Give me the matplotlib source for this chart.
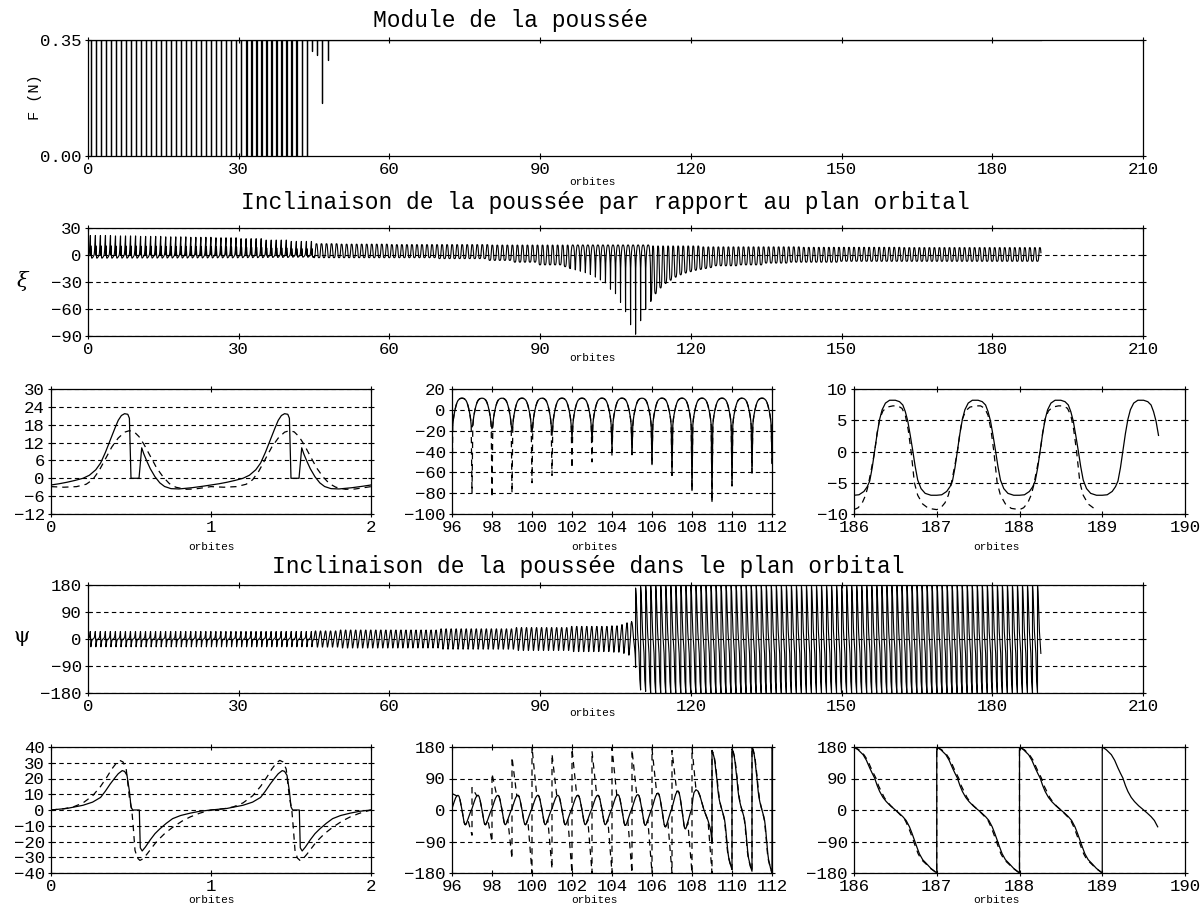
import numpy as np
import matplotlib
matplotlib.use('Agg')
import matplotlib.pyplot as plt

plt.rcParams['font.family'] = ['Liberation Mono', 'DejaVu Sans Mono']
plt.rcParams['axes.unicode_minus'] = True

T_END = 189.68          # last orbit computed

# ---------------- thrust modulus F (N) ----------------
F_MAX = 0.35
coast_orbits = list(range(44))          # orbits with a full coast arc
coast_on, coast_off = 0.50, 0.55        # coast arc, fraction of orbit
partial_orbit = [44.6, 45.6, 46.6, 47.8]
partial_value = [0.316, 0.304, 0.161, 0.290]

# ---------------- xi : out-of-plane thrust angle (deg) ----------------
# one orbit with coast arc (orbit 0)
xi_coast_phase = [0.0, 0.05, 0.10, 0.15, 0.20, 0.24, 0.28, 0.31, 0.34, 0.37,
                  0.40, 0.42, 0.44, 0.46, 0.48, 0.49, 0.50, 0.55, 0.567, 0.58,
                  0.60, 0.62, 0.65, 0.68, 0.71, 0.75, 0.80, 0.88, 0.95, 1.0]
xi_coast = [-2.2, -1.8, -1.3, -0.7, 0.0, 1.0, 2.8, 5.0, 8.5, 12.5,
            16.5, 19.0, 20.6, 21.2, 21.0, 19.7, 0.0, 0.0, 10.0, 8.0,
            5.5, 3.2, 0.5, -1.5, -2.7, -3.4, -3.5, -3.1, -2.6, -2.2]
xi_coast_ref_phase = [0.0, 0.08, 0.16, 0.22, 0.26, 0.30, 0.34, 0.38, 0.42,
                      0.46, 0.49, 0.52, 0.55, 0.58, 0.62, 0.66, 0.70, 0.74,
                      0.78, 0.84, 0.90, 0.95, 1.0]
xi_coast_ref = [-2.8, -3.0, -2.8, -2.0, -0.5, 2.5, 6.5, 10.5, 13.5,
                15.5, 16.0, 15.6, 14.0, 11.5, 7.5, 3.5, 0.5, -1.8,
                -3.0, -3.7, -3.6, -3.2, -2.8]
# continuous thrust, shape between trough (0) and peak (1)
xi_smooth_phase = [0.0, 0.06, 0.12, 0.16, 0.19, 0.22, 0.25, 0.28, 0.31, 0.34,
                   0.38, 0.43, 0.50, 0.55, 0.59, 0.62, 0.65, 0.68, 0.71, 0.74,
                   0.77, 0.81, 0.86, 0.93, 1.0]
xi_smooth_shape = [0.0, 0.005, 0.04, 0.09, 0.15, 0.29, 0.47, 0.65, 0.80, 0.90,
                   0.97, 1.0, 1.0, 0.985, 0.95, 0.88, 0.78, 0.63, 0.47, 0.30,
                   0.16, 0.07, 0.02, 0.0, 0.0]
# orbits 96-111, cusp at perigee
xi_cusp_phase = [0.0, 0.04, 0.07, 0.10, 0.15, 0.20, 0.25, 0.30, 0.37, 0.43,
                 0.50, 0.57, 0.63, 0.70, 0.75, 0.80, 0.85, 0.90, 0.93, 0.96, 1.0]
xi_cusp_mid = [-15.0, -9.0, -5.0, 0.0, 4.0, 7.0, 9.0, 10.4, 11.0,
               11.2, 11.0, 10.4, 9.0, 7.0, 4.0, 0.0, -5.0, -9.0, -15.0]
# reference solution, orbits 186-189
xi_end_ref_phase = [0.0, 0.05, 0.10, 0.14, 0.17, 0.21, 0.25, 0.28, 0.31, 0.35,
                    0.40, 0.47, 0.53, 0.58, 0.62, 0.655, 0.69, 0.71, 0.73,
                    0.77, 0.83, 0.90, 1.0]
xi_end_ref = [-9.3, -9.0, -8.2, -7.0, -5.5, -2.8, 0.0, 3.0, 5.2, 6.5,
              7.1, 7.3, 7.3, 6.9, 5.8, 3.5, 0.0, -2.5, -5.0,
              -7.0, -8.4, -9.1, -9.3]

# peak value per orbit 0..189
xi_peak = ([21.5] * 5 + [21] * 5 + [20.5] * 5 + [20] * 5 + [19.5] * 5 +
           [19] * 5 + [18] * 5 + [16.5] * 5 + [15] * 5 +
           [12.5] * 5 + [12] * 10 + [11.5] * 20 + [11] * 32 +
           [10] * 10 + [9] * 20 + [8.5] * 20 + [8.2] * 28)
# trough value at the start of each orbit 0..190
xi_trough = ([-3.5] * 45 + [-3] * 25 + [-4] * 10 + [-6] * 5 + [-8] * 5 +
             [-11] * 5 + [-13] +
             [-15, -16.5, -18, -19.7, -21.6, -24.5, -27.7, -31, -38, -43,
              -52.6, -63, -77.5, -88, -73, -60.6] +
             [-51.6, -43, -36.6, -31.6, -28, -24.6, -22, -20, -18.5, -17,
              -16, -15, -14] +
             [-12] * 5 + [-11] * 5 + [-9] * 5 + [-8] * 10 + [-7] * 41)
# reference solution troughs, orbits 96..104
xi_ref_trough = [-75, -80, -84, -80, -70, -63, -56, -50, -45]

# ---------------- psi : in-plane thrust angle (deg) ----------------
psi_coast_phase = [0.0, 0.10, 0.20, 0.26, 0.31, 0.34, 0.37, 0.40, 0.42, 0.445,
                   0.46, 0.475, 0.49, 0.50, 0.51, 0.552, 0.558, 0.57, 0.59,
                   0.62, 0.65, 0.68, 0.72, 0.76, 0.81, 0.87, 0.93, 1.0]
psi_coast = [0.0, 1.0, 3.0, 5.0, 8.0, 12.0, 16.5, 20.5, 23.0, 25.0,
             24.5, 22.0, 12.0, 2.0, 0.0, 0.0, -24.0, -26.0, -23.5,
             -19.0, -15.0, -12.0, -8.5, -5.5, -3.5, -2.0, -0.8, 0.0]
psi_coast_ref_phase = [0.0, 0.08, 0.14, 0.20, 0.26, 0.31, 0.35, 0.38, 0.41,
                       0.43, 0.45, 0.47, 0.49, 0.505, 0.515, 0.525, 0.54,
                       0.556, 0.575, 0.60, 0.63, 0.66, 0.71, 0.76, 0.82,
                       0.87, 0.93, 1.0]
psi_coast_ref = [0.0, 0.8, 2.0, 4.5, 9.0, 15.0, 21.0, 26.0, 30.0,
                 31.5, 30.5, 26.0, 8.0, 0.0, -12.0, -25.6, -30.5,
                 -32.0, -31.0, -28.0, -24.0, -20.0, -15.0, -11.0, -7.0,
                 -4.4, -2.0, 0.0]
psi_osc_phase = [0.0, 0.06, 0.12, 0.18, 0.24, 0.30, 0.35, 0.40, 0.45, 0.50,
                 0.55, 0.60, 0.64, 0.68, 0.73, 0.79, 0.85, 0.92, 1.0]
psi_osc_shape = [0.1, 0.35, 0.6, 0.82, 0.96, 1.0, 0.93, 0.7, 0.35, 0.0,
                 -0.4, -0.8, -0.98, -1.0, -0.88, -0.65, -0.4, -0.15, 0.1]
psi_amp = ([27] * 5 + [30] * 20 + [34] * 15 + [38] * 11 + [42] * 8 +
           [44] * 2 + [48] + [54])                       # orbits 45..107
psi_108_phase = [0.0, 0.05, 0.10, 0.20, 0.30, 0.40, 0.50, 0.60, 0.70, 0.80,
                 0.90, 0.95, 1.0]
psi_108 = [10.0, 35.0, 50.0, 58.0, 54.0, 40.0, 20.0, 0.0, -15.0, -30.0,
           -50.0, -65.0, -95.0]
psi_saw_phase = [0.0, 0.05, 0.11, 0.15, 0.19, 0.22, 0.25, 0.28, 0.31, 0.35,
                 0.39, 0.44, 0.49, 0.54, 0.59, 0.63, 0.67, 0.70, 0.73, 0.76,
                 0.79, 0.83, 0.875, 0.93, 1.0]
psi_saw_ref_phase = [0.0, 0.06, 0.12, 0.165, 0.205, 0.235, 0.265, 0.295, 0.33,
                     0.365, 0.40, 0.445, 0.49, 0.535, 0.58, 0.62, 0.655,
                     0.685, 0.715, 0.745, 0.775, 0.815, 0.865, 0.925, 1.0]
psi_saw = [180.0, 172.0, 158.0, 142.0, 120.0, 105.0, 91.0, 70.0, 53.0, 36.0,
           24.0, 12.0, 2.0, -8.0, -19.0, -30.0, -48.0, -66.0, -86.0, -106.0,
           -125.0, -142.0, -153.0, -167.0, -180.0]
psi_wrap = [170, 175] + [180] * 79                       # orbits 109..189
# reference solution jumps around perigee, orbits 96..108
psi_ref_top = [47, 64, 104, 151, 180, 160, 175, 168, 178, 172, 175, 170, 178]
psi_ref_bottom = [-72, -91, -139, -180, -168, -180, -180, -180, -180,
                  -180, -180, -180, -180]


def lay(orbits, wave):
    t, y = [], []
    for k in orbits:
        ph, v = wave(k)
        t.extend(k + np.asarray(ph, float))
        y.extend(np.asarray(v, float))
    return np.array(t), np.array(y)


def upto(t, y, t1):
    m = t <= t1
    return t[m], y[m]


def xi_orbit(k, trough):
    if k < 45:
        return xi_coast_phase, np.array(xi_coast) * xi_peak[k] / 21.0
    t0, t1 = trough[k], trough[k + 1]
    if 96 <= k <= 111:
        return xi_cusp_phase, [t0] + xi_cusp_mid + [t1]
    ph = np.array(xi_smooth_phase)
    base = np.where(ph < 0.5, t0, t1)
    return ph, base + (xi_peak[k] - base) * np.array(xi_smooth_shape)


def psi_orbit(k):
    if k < 45:
        return psi_coast_phase, psi_coast
    if k < 108:
        return psi_osc_phase, np.array(psi_osc_shape) * psi_amp[k - 45]
    if k == 108:
        return psi_108_phase, psi_108
    return psi_saw_phase, np.array(psi_saw) * psi_wrap[k - 109] / 180.0


def psi_ref_orbit(k):
    if k >= 109:
        return psi_saw_ref_phase, np.array(psi_saw) * psi_wrap[k - 109] / 180.0
    ph, v = psi_orbit(k)
    ph, v = np.asarray(ph, float), np.asarray(v, float)
    keep = (ph >= 0.2) & (ph <= 0.82)
    return (np.r_[0.0, ph[keep], 1.0],
            np.r_[psi_ref_top[k - 96], v[keep], psi_ref_bottom[k - 96]])


orbits = range(190)

# thrust history
ft, fy = [0.0], [F_MAX]
for k in coast_orbits:
    ft += [k + coast_on, k + coast_on, k + coast_off, k + coast_off]
    fy += [F_MAX, 0.0, 0.0, F_MAX]
for o, v in zip(partial_orbit, partial_value):
    ft += [o, o, o + 0.03, o + 0.03]
    fy += [F_MAX, v, v, F_MAX]
ft.append(T_END)
fy.append(F_MAX)

xi_t, xi_y = upto(*lay(orbits, lambda k: xi_orbit(k, xi_trough)), T_END)
xi_ref_tr = xi_trough[:96] + xi_ref_trough + xi_trough[105:]
xi_a_t, xi_a_y = lay(range(2), lambda k: (xi_coast_ref_phase, xi_coast_ref))
xi_b_t, xi_b_y = lay(range(96, 112), lambda k: xi_orbit(k, xi_ref_tr))
xi_c_t, xi_c_y = upto(*lay(range(186, 189), lambda k: (xi_end_ref_phase, xi_end_ref)), 188.9)

psi_t, psi_y = upto(*lay(orbits, psi_orbit), T_END)
psi_a_t, psi_a_y = lay(range(2), lambda k: (psi_coast_ref_phase, psi_coast_ref))
psi_b_t, psi_b_y = lay(range(96, 112), psi_ref_orbit)
psi_c_t, psi_c_y = lay(range(186, 189), lambda k: (psi_saw_ref_phase, psi_saw))

# ---------------- figure ----------------
W, H = 1201, 907
fig = plt.figure(figsize=(W / 100, H / 100), dpi=100)
DASH = (0, (5, 4))
GRID = (0, (4, 3))


def box(l, t, r, b):
    return fig.add_axes([l / W, 1 - b / H, (r - l) / W, (b - t) / H])


def style(ax, xlim, xticks, ylim, yticks, grid=True):
    ax.set_xlim(xlim)
    ax.set_ylim(ylim)
    ax.set_xticks(xticks)
    ax.set_yticks(yticks)
    ax.tick_params(direction='inout', length=5, width=0.8, top=True,
                   right=True, labelsize=12.5, pad=2)
    for s in ax.spines.values():
        s.set_linewidth(0.9)
    if grid:
        ax.yaxis.grid(True, color='k', ls=GRID, lw=0.8)


def label(x, y, s, size=8, **kw):
    fig.text(x / W, 1 - y / H, s, ha='center', va='center', size=size, **kw)


main_x = np.arange(0, 211, 30)

ax = box(88, 40, 1143, 156)
ax.plot(ft, fy, color='k', lw=0.9)
style(ax, (0, 210), main_x, (0, F_MAX), [0, F_MAX], grid=False)
ax.set_yticklabels(['0.00', '0.35'])
label(510, 20, 'Module de la poussée', size=16.5)
label(592, 182, 'orbites')
label(35, 97, 'F (N)', size=11, rotation=90)

ax = box(88, 228, 1143, 336)
ax.plot(xi_t, xi_y, color='k', lw=0.8)
style(ax, (0, 210), main_x, (-90, 30), [30, 0, -30, -60, -90])
label(605, 203, 'Inclinaison de la poussée par rapport au plan orbital', size=16.5)
label(592, 358, 'orbites')
label(22, 281, 'ξ', size=15, family='DejaVu Serif', style='italic')

# detail windows for xi
ax = box(51, 389, 371, 514)
ax.plot(xi_a_t, xi_a_y, color='k', lw=0.9, ls=DASH)
ax.plot(xi_t, xi_y, color='k', lw=0.9)
style(ax, (0, 2), [0, 1, 2], (-12, 30), np.arange(-12, 31, 6))
label(211, 547, 'orbites')

ax = box(452, 389, 772, 514)
ax.plot(xi_b_t, xi_b_y, color='k', lw=0.9, ls=DASH)
ax.plot(xi_t, xi_y, color='k', lw=0.9)
style(ax, (96, 112), np.arange(96, 113, 2), (-100, 20), np.arange(-100, 21, 20))
label(594, 547, 'orbites')

ax = box(854, 389, 1185, 514)
ax.plot(xi_c_t, xi_c_y, color='k', lw=0.9, ls=DASH)
ax.plot(xi_t, xi_y, color='k', lw=0.9)
style(ax, (186, 190), np.arange(186, 191), (-10, 10), np.arange(-10, 11, 5))
label(996, 547, 'orbites')

ax = box(88, 585, 1143, 693)
ax.plot(psi_t, psi_y, color='k', lw=0.8)
style(ax, (0, 210), main_x, (-180, 180), [180, 90, 0, -90, -180])
label(588, 566, 'Inclinaison de la poussée dans le plan orbital', size=16.5)
label(592, 713, 'orbites')
label(22, 636, 'ψ', size=15, family='DejaVu Serif')

# detail windows for psi
ax = box(51, 747, 371, 873)
ax.plot(psi_a_t, psi_a_y, color='k', lw=0.9, ls=DASH)
ax.plot(psi_t, psi_y, color='k', lw=0.9)
style(ax, (0, 2), [0, 1, 2], (-40, 40), np.arange(-40, 41, 10))
label(211, 900, 'orbites')

ax = box(452, 747, 772, 873)
ax.plot(psi_b_t, psi_b_y, color='k', lw=0.9, ls=DASH)
ax.plot(psi_t, psi_y, color='k', lw=0.9)
style(ax, (96, 112), np.arange(96, 113, 2), (-180, 180), [180, 90, 0, -90, -180])
label(594, 900, 'orbites')

ax = box(854, 747, 1185, 873)
ax.plot(psi_c_t, psi_c_y, color='k', lw=0.9, ls=DASH)
ax.plot(psi_t, psi_y, color='k', lw=0.9)
style(ax, (186, 190), np.arange(186, 191), (-180, 180), [180, 90, 0, -90, -180])
label(996, 900, 'orbites')

fig.savefig('out.png', dpi=100)
